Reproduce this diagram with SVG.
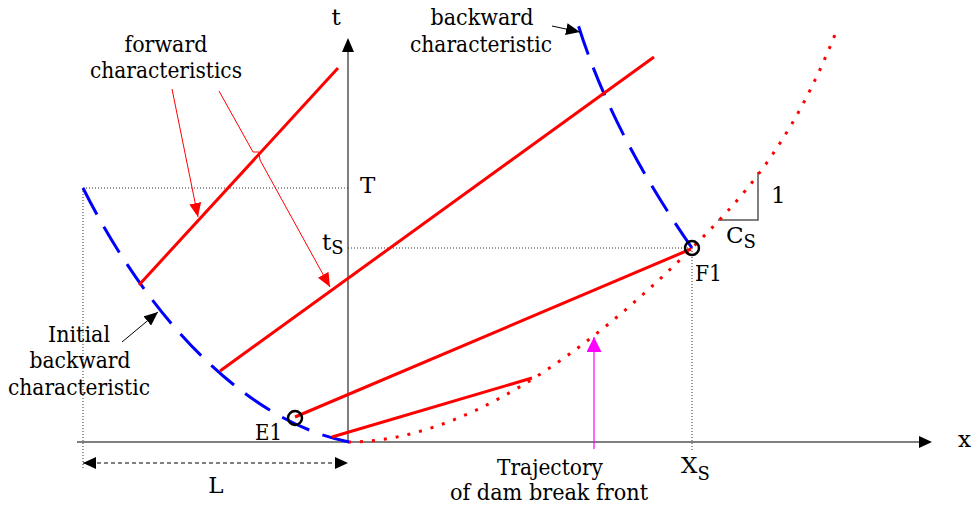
<svg xmlns="http://www.w3.org/2000/svg" width="972" height="511" viewBox="0 0 972 511">
<style>
text{font-family:'DejaVu Serif',serif;font-size:23px;fill:#000}
.mid{text-anchor:middle}
.sub{font-size:18px}
.axis{stroke:#555;stroke-width:1.5;fill:none}
.guide{stroke:#333;stroke-width:1;stroke-dasharray:1 2;fill:none}
.fwd{stroke:#ff0000;stroke-width:3;fill:none}
.bwd{stroke:#0000ff;stroke-width:3;fill:none;stroke-dasharray:30 14}
.traj{stroke:#ff0000;stroke-width:3;fill:none;stroke-dasharray:3 9}
.pt{stroke:#000;stroke-width:2.5;fill:none}
.ann-red{stroke:#ff0000;stroke-width:1;fill:none}
.ann-blk{stroke:#000;stroke-width:1;fill:none}
.ann-mag{stroke:#ff00ff;stroke-width:1.2;fill:none}
</style>
<defs>
<marker id="ahRed" markerUnits="userSpaceOnUse" markerWidth="14" markerHeight="12" refX="14" refY="6" orient="auto"><path d="M0,0 L14,6 L0,12 z" fill="#ff0000"/></marker>
<marker id="ahBlk" markerUnits="userSpaceOnUse" markerWidth="14" markerHeight="12" refX="14" refY="6" orient="auto"><path d="M0,0 L14,6 L0,12 z" fill="#000"/></marker>
<marker id="ahMag" markerUnits="userSpaceOnUse" markerWidth="15" markerHeight="15" refX="15" refY="7.5" orient="auto"><path d="M0,0 L15,7.5 L0,15 z" fill="#ff00ff"/></marker>
<marker id="ahDim" markerUnits="userSpaceOnUse" markerWidth="13" markerHeight="12" refX="13" refY="6" orient="auto-start-reverse"><path d="M0,0 L13,6 L0,12 z" fill="#000"/></marker>
</defs>

<g id="axes">
<line class="axis" x1="77" y1="442" x2="920" y2="442"/>
<polygon points="932,442 919,436 919,448" fill="#000"/>
<line class="axis" x1="348" y1="442" x2="348" y2="50"/>
<polygon points="348,38 342,52 354,52" fill="#000"/>
<text x="958" y="447">x</text>
<text class="mid" x="336" y="25">t</text>
</g>

<g id="guides">
<line class="guide" x1="83" y1="188" x2="348" y2="188"/>
<line class="guide" x1="83" y1="188" x2="83" y2="468"/>
<line class="guide" x1="348" y1="248" x2="692" y2="248"/>
<line class="guide" x1="692" y1="248" x2="692" y2="452"/>
<text x="360" y="193">T</text>
<text x="322" y="250">t<tspan class="sub" dy="4">S</tspan></text>
<text x="681" y="473">X<tspan class="sub" dy="7">S</tspan></text>
</g>

<g id="slope">
<polyline class="axis" points="718,220 758,220 758,172"/>
<text x="771" y="203">1</text>
<text x="726" y="243">C<tspan class="sub" dy="5">S</tspan></text>
</g>

<g id="dimension-L">
<line x1="83" y1="463" x2="348" y2="463" stroke="#000" stroke-width="1" stroke-dasharray="4 3" marker-start="url(#ahDim)" marker-end="url(#ahDim)"/>
<text class="mid" x="216" y="493">L</text>
</g>

<g id="trajectory">
<path class="traj" d="M348,442 C460,442 582,358 692,248 C737,203 790,150 838,27"/>
</g>

<g id="initial-backward">
<path class="bwd" d="M83,188 C143,308 239,420 349,442"/>
</g>

<g id="backward">
<path class="bwd" d="M692,248 Q610,130 577,21"/>
</g>

<g id="forward-lines">
<line class="fwd" x1="139" y1="285" x2="338" y2="68"/>
<line class="fwd" x1="220" y1="371" x2="654" y2="57"/>
<line class="fwd" x1="295" y1="417" x2="691" y2="249"/>
<line class="fwd" x1="332" y1="437" x2="532" y2="378"/>
</g>

<g id="E1">
<circle class="pt" cx="295" cy="418" r="7"/>
<text x="255" y="440" textLength="27" lengthAdjust="spacingAndGlyphs">E1</text>
</g>
<g id="F1">
<circle class="pt" cx="692" cy="248" r="7"/>
<text x="695" y="281" textLength="27" lengthAdjust="spacingAndGlyphs">F1</text>
</g>

<g id="connectors">
<line class="ann-red" x1="172" y1="89" x2="198" y2="217" marker-end="url(#ahRed)"/>
<path class="ann-red" d="M219,91 L253,152 L259,152 L260,160 L330,287" marker-end="url(#ahRed)"/>
<line class="ann-blk" x1="552" y1="26" x2="580" y2="32" marker-end="url(#ahBlk)"/>
<line class="ann-blk" x1="122" y1="342" x2="158" y2="312" marker-end="url(#ahBlk)"/>
<line class="ann-mag" x1="594" y1="449" x2="594" y2="337" marker-end="url(#ahMag)"/>
</g>

<g id="label-forward">
<text class="mid" x="166" y="52" textLength="83" lengthAdjust="spacingAndGlyphs">forward</text>
<text class="mid" x="166" y="78" textLength="152" lengthAdjust="spacingAndGlyphs">characteristics</text>
</g>
<g id="label-backward">
<text class="mid" x="482" y="25" textLength="103" lengthAdjust="spacingAndGlyphs">backward</text>
<text class="mid" x="481" y="52" textLength="142" lengthAdjust="spacingAndGlyphs">characteristic</text>
</g>
<g id="label-initial">
<text class="mid" x="79" y="342" textLength="62" lengthAdjust="spacingAndGlyphs">Initial</text>
<text class="mid" x="80" y="368" textLength="101" lengthAdjust="spacingAndGlyphs">backward</text>
<text class="mid" x="79" y="395" textLength="142" lengthAdjust="spacingAndGlyphs">characteristic</text>
</g>
<g id="label-trajectory">
<text class="mid" x="550" y="475" textLength="106" lengthAdjust="spacingAndGlyphs">Trajectory</text>
<text class="mid" x="549" y="500" textLength="198" lengthAdjust="spacingAndGlyphs">of dam break front</text>
</g>
</svg>
